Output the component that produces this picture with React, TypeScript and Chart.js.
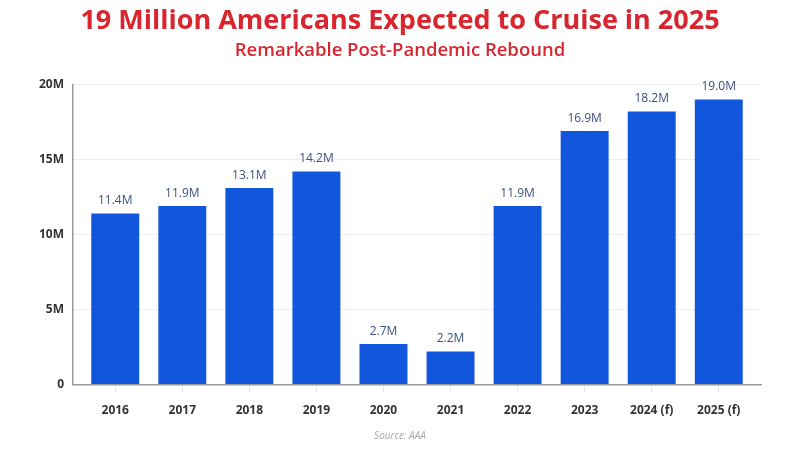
import React, { useEffect, useRef } from "react";
import { Chart, registerables } from "chart.js";

Chart.register(...registerables);

const categories = ["2016", "2017", "2018", "2019", "2020", "2021", "2022", "2023", "2024 (f)", "2025 (f)"];
const cruisers = [11.4, 11.9, 13.1, 14.2, 2.7, 2.2, 11.9, 16.9, 18.2, 19.0]; // millions
const yTicks = [0, 5, 10, 15, 20];

const TITLE = "19 Million Americans Expected to Cruise in 2025";
const SUBTITLE = "Remarkable Post-Pandemic Rebound";
const SOURCE = "Source: AAA";

const RED = "#d9262e";
const BLUE = "#1156dc";
const FONT = "'Open Sans', sans-serif";

const valueLabels = {
  id: "valueLabels",
  afterDatasetsDraw(chart: any) {
    const ctx = chart.ctx;
    const meta = chart.getDatasetMeta(0);
    ctx.save();
    ctx.font = `12px ${FONT}`;
    ctx.fillStyle = "#3d4f7c";
    ctx.textAlign = "center";
    ctx.textBaseline = "bottom";
    meta.data.forEach((el: any, i: number) => {
      ctx.fillText(cruisers[i].toFixed(1) + "M", el.x, el.y - 7);
    });
    ctx.restore();
  },
};

const sourceNote = {
  id: "sourceNote",
  afterDraw(chart: any) {
    const ctx = chart.ctx;
    ctx.save();
    ctx.font = `italic 10px ${FONT}`;
    ctx.fillStyle = "#aaaaaa";
    ctx.textAlign = "center";
    ctx.textBaseline = "middle";
    ctx.fillText(SOURCE, chart.width / 2, chart.height - 14);
    ctx.restore();
  },
};

export default function App() {
  const ref = useRef<HTMLCanvasElement | null>(null);

  useEffect(() => {
    if (!ref.current) return;
    const chart = new Chart(ref.current, {
      type: "bar",
      data: {
        datasets: [
          {
            data: cruisers.map((v, i) => ({ x: i, y: v })),
            backgroundColor: BLUE,
            borderWidth: 0,
            barPercentage: 0.715,
            categoryPercentage: 1,
          },
        ],
      },
      plugins: [valueLabels, sourceNote],
      options: {
        responsive: false,
        animation: false,
        layout: { padding: { left: 39, right: 39, top: 0, bottom: 21 } },
        plugins: {
          legend: { display: false },
          tooltip: { enabled: false },
          title: {
            display: true,
            text: TITLE,
            color: RED,
            font: { family: FONT, size: 27, weight: "bold" },
            padding: { top: 5, bottom: 0 },
          },
          subtitle: {
            display: true,
            text: SUBTITLE,
            color: RED,
            font: { family: FONT, size: 18.5, weight: 600 },
            padding: { top: 2, bottom: 23 },
          },
        },
        scales: {
          x: {
            type: "linear",
            offset: false,
            min: -0.63,
            max: categories.length - 1 + 0.63,
            afterBuildTicks: (scale: any) => {
              scale.ticks = categories.map((_, i) => ({ value: i }));
            },
            ticks: {
              autoSkip: false,
              maxRotation: 0,
              padding: 11,
              color: "#333333",
              font: { family: FONT, size: 12, weight: "bold" },
              callback: (v: any) => categories[v] ?? "",
            },
            grid: {
              offset: false,
              drawOnChartArea: false,
              drawTicks: true,
              tickLength: 8,
              color: "#e3e3e3",
            },
            border: { display: true, color: "#9a9a9a", width: 1.5 },
          },
          y: {
            min: 0,
            max: 20,
            afterBuildTicks: (scale: any) => {
              scale.ticks = yTicks.map((v) => ({ value: v }));
            },
            afterFit: (scale: any) => {
              scale.width = 34;
            },
            ticks: {
              padding: 9,
              color: "#333333",
              font: { family: FONT, size: 12, weight: "bold" },
              callback: (v: any) => (v === 0 ? "0" : v + "M"),
            },
            grid: { color: "#eeeeee", drawTicks: false },
            border: { display: true, color: "#9a9a9a", width: 1.5 },
          },
        },
      },
    });
    return () => chart.destroy();
  }, []);

  return (
    <div style={{ position: "fixed", left: 0, top: 0, width: 800, height: 450, background: "#fff" }}>
      <canvas ref={ref} width={800} height={450} />
    </div>
  );
}
